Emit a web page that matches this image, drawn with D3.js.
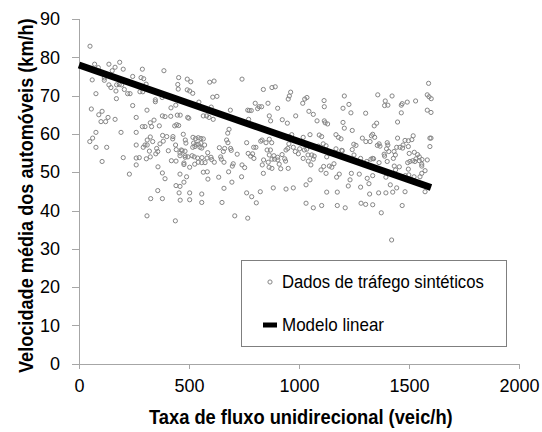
<!DOCTYPE html>
<html>
<head>
<meta charset="utf-8">
<script src="https://cdn.jsdelivr.net/npm/d3@7"></script>
<style>
  body { margin: 0; background: #fff; }
  svg text { fill: #000; }
</style>
</head>
<body>
<svg id="chart" width="542" height="432"></svg>
<script>
// synthetic traffic observations: [flow (veic/h), speed (km/h)]
var points = [
  [50,82.9],[71,78.2],[88,77.3],[60,74.1],[77,70.5],[56,66.5],[105,65.9],[90,65.0],[100,63.2],[121,63.2],
  [132,64.3],[77,60.4],[62,58.9],[49,58.0],[77,56.5],[126,56.5],[105,52.8],[136,78.2],[151,76.5],[164,77.4],
  [185,78.7],[201,76.9],[115,74.0],[115,74.6],[136,72.8],[145,72.1],[171,72.8],[183,72.9],[194,72.8],[206,71.6],
  [168,71.2],[221,70.5],[232,70.5],[170,69.2],[244,75.0],[288,76.9],[282,74.7],[294,74.4],[305,73.0],[277,71.0],
  [290,71.0],[244,67.4],[260,64.3],[309,66.2],[191,60.4],[201,53.8],[229,49.5],[260,60.4],[288,61.9],[300,61.9],
  [324,62.9],[330,61.9],[341,63.6],[260,57.1],[292,56.5],[300,57.1],[310,57.1],[310,58.4],[260,53.7],[306,53.5],
  [274,53.8],[260,51.9],[324,59.2],[335,58.0],[320,55.5],[324,54.0],[359,51.4],[358,45.2],[379,49.8],[391,48.3],
  [326,43.1],[379,43.1],[309,38.6],[438,37.3],[349,54.8],[368,57.4],[353,56.2],[358,55.4],[365,62.1],[379,64.7],
  [391,64.5],[380,59.6],[399,59.3],[418,66.8],[435,62.1],[444,62.4],[453,62.2],[453,74.7],[449,72.9],[451,71.7],
  [492,74.3],[508,73.6],[492,71.5],[503,71.2],[517,70.6],[494,64.3],[499,64.1],[474,59.9],[483,58.4],[486,57.6],
  [465,55.8],[482,55.5],[482,54.3],[439,57.1],[442,55.9],[459,54.3],[441,52.9],[459,49.5],[477,47.4],[455,44.6],
  [503,42.8],[518,59.1],[530,58.8],[542,59.0],[554,58.8],[565,58.7],[521,57.6],[532,57.3],[542,57.3],[554,57.6],
  [571,57.1],[517,56.5],[527,56.7],[550,56.5],[558,56.3],[524,54.0],[539,53.7],[559,53.8],[542,52.6],[558,52.5],
  [573,52.5],[585,55.1],[582,53.7],[565,50.0],[583,50.1],[586,48.2],[644,54.0],[647,53.4],[659,52.6],[558,44.3],
  [558,42.1],[545,68.3],[580,64.7],[591,64.3],[610,63.8],[565,64.7],[594,73.5],[614,73.8],[608,69.6],[627,69.8],
  [601,67.0],[638,56.4],[656,55.4],[662,56.2],[635,48.7],[650,42.1],[659,45.8],[676,60.2],[671,58.4],[677,57.7],
  [682,61.2],[688,66.2],[689,56.2],[692,55.7],[701,52.2],[697,51.6],[708,38.6],[695,47.4],[719,54.7],[741,51.9],
  [753,51.2],[739,48.8],[762,44.6],[767,38.0],[741,74.3],[767,66.2],[771,63.8],[762,57.7],[769,54.9],[386,76.5],
  [347,68.9],[347,68.4],[378,69.5],[164,63.8],[383,58.1],[406,55.6],[420,53.0],[426,58.7],[427,59.3],[459,55.0],
  [469,55.6],[477,52.4],[477,52.0],[483,53.9],[495,54.0],[514,54.3],[459,46.3],[600,53.9],[603,53.3],[615,52.6],
  [680,50.1],[794,56.5],[855,55.8],[870,55.8],[860,52.6],[877,51.0],[1032,46.7],[1050,48.0],[812,66.6],[1465,67.5],
  [1329,59.5],[1344,59.1],[1197,55.6],[1250,54.5],[1280,53.6],[1364,52.5],[1389,54.2],[1401,52.8],[1415,46.7],[1444,45.9],
  [1335,49.1],[417,64.6],[447,64.9],[460,64.9],[440,67.5],[441,46.5],[460,42.7],[526,52.1],[503,51.3],[489,48.8],
  [503,44.6],
  [838,71.6],[877,72.1],[892,72.3],[962,70.9],[956,69.9],[951,69.1],[801,68.0],[819,67.1],[830,67.1],[859,68.0],
  [774,66.1],[783,66.1],[903,66.7],[865,64.7],[871,63.4],[924,63.7],[947,62.8],[1017,68.0],[1026,69.1],[1036,69.5],
  [1045,65.9],[1065,65.1],[985,64.7],[1082,63.4],[1114,68.7],[1115,67.1],[1115,63.4],[1119,62.9],[1130,62.6],[1206,69.9],
  [1227,67.7],[1236,65.5],[1200,66.7],[1200,63.0],[1206,61.5],[1242,60.9],[1303,65.4],[1358,70.2],[1423,69.9],[1392,68.6],
  [1404,67.5],[1389,67.4],[1469,67.9],[1492,68.3],[1465,65.5],[1448,63.1],[1353,62.8],[1342,62.1],[1335,59.9],[1288,58.9],
  [1242,55.9],[1249,57.3],[1259,57.0],[1304,58.0],[1323,58.0],[1335,53.6],[1339,53.5],[1356,57.0],[1364,57.4],[1368,56.8],
  [1401,57.7],[1404,57.1],[1398,56.1],[1444,56.5],[1432,55.4],[1438,54.5],[1429,53.6],[1448,58.9],[1482,58.3],[1497,58.2],
  [1459,56.5],[1473,57.1],[1497,56.7],[1501,54.9],[1433,51.6],[1439,50.6],[1456,51.4],[1497,50.8],[1499,49.3],[1395,48.7],
  [1310,48.4],[1318,47.0],[1274,49.5],[1224,46.4],[1280,46.1],[1232,48.0],[1183,49.5],[1171,48.7],[1123,49.7],[1138,51.6],
  [1149,51.3],[1159,52.2],[1100,50.6],[1112,51.5],[1054,51.9],[1065,53.4],[1042,52.9],[1041,54.5],[1058,54.5],[1024,55.8],
  [1035,56.0],[997,54.8],[1019,53.6],[1003,56.1],[983,55.4],[974,56.5],[949,56.2],[954,57.4],[941,55.8],[956,59.3],
  [967,59.8],[923,54.6],[935,53.5],[939,52.9],[910,52.1],[917,50.9],[951,51.0],[886,54.3],[903,53.9],[904,53.2],
  [865,54.5],[877,53.4],[889,53.4],[839,53.2],[833,51.9],[864,51.3],[838,49.7],[876,57.7],[865,58.6],[850,57.7],
  [832,58.4],[826,58.1],[804,56.5],[795,53.6],[789,54.8],[780,54.2],[785,43.6],[806,42.0],[824,44.9],[883,45.9],
  [941,45.6],[974,45.9],[1032,41.9],[1065,40.7],[1103,41.3],[1126,44.8],[1174,44.8],[1174,41.3],[1210,40.7],[1282,41.9],
  [1303,41.6],[1335,41.5],[1321,44.3],[1362,44.6],[1395,44.6],[1426,44.8],[1469,41.3],[1374,39.4],[1421,32.3],
  [1589,73.2],[1583,70.2],[1591,69.7],[1601,69.2],[1583,66.2],[1600,65.6],[1530,68.6],[1595,58.9],[1600,58.9],[1595,56.7],
  [1519,59.5],[1513,58.5],[1471,56.3],[1524,55.2],[1539,54.6],[1532,53.5],[1517,53.0],[1504,52.8],[1494,52.5],[1527,52.8],
  [1547,53.0],[1559,53.3],[1583,53.2],[1558,52.1],[1558,51.6],[1573,50.4],[1558,49.7],[1550,48.8],[1523,48.8],[1483,49.1],
  [1482,44.9],[1573,44.9],
  [1050,59.8],[1092,59.7],[1103,59.3],[1110,57.4],[1123,56.9],[1126,54.0],[1141,54.9],[1168,56.1],[1194,55.7],[1308,52.8],
  [1327,53.4],[1387,54.7],[1408,55.4],[1547,54.0],[1019,59.1],[1088,56.8],[1179,59.1],[1191,58.7],[1168,59.8],[1069,54.2],
  [1238,49.7]
];

// fitted linear model end points
var modelFlow = [0, 1600];
var modelSpeed = [78, 46];

var xTicks = [0, 500, 1000, 1500, 2000];
var yTicks = [0, 10, 20, 30, 40, 50, 60, 70, 80, 90];

var xTitle = "Taxa de fluxo unidirecional (veic/h)";
var yTitle = "Velocidade média dos automóveis (km/h)";
var legendLabels = ["Dados de tráfego sintéticos", "Modelo linear"];
var legendWidths = [202, 102];

var svg = d3.select("#chart");
var axisColor = "#a6a6a6";
var font = "'Liberation Sans', Arial, sans-serif";

var x = d3.scaleLinear().domain([0, 2000]).range([79, 519]);
var y = d3.scaleLinear().domain([0, 90]).range([363.7, 19]);

// the original uses a narrow face; squeeze a normal one horizontally to the same width
function squeezed(parent, transform, str, width, size, weight) {
  var g = parent.append("g").attr("transform", transform);
  var t = g.append("text")
    .style("font-family", font).style("font-size", size + "px").style("font-weight", weight)
    .text(str);
  var w = t.node().getComputedTextLength();
  t.attr("transform", "scale(" + (width / w) + ",1)");
  return t;
}

// y axis
var yAxis = svg.append("g")
  .attr("transform", "translate(" + x(0) + ",0)")
  .call(d3.axisLeft(y).tickValues(yTicks).tickFormat(d3.format("d")).tickSize(7).tickPadding(12));

// x axis
var xAxis = svg.append("g")
  .attr("transform", "translate(0," + y(0) + ")")
  .call(d3.axisBottom(x).tickValues(xTicks).tickFormat(d3.format("d")).tickSize(5).tickPadding(11));

[xAxis, yAxis].forEach(function(a) {
  a.selectAll("path, line").attr("stroke", axisColor).attr("shape-rendering", "crispEdges");
  a.selectAll("text")
   .attr("fill", "#000")
   .style("font-family", font)
   .style("font-size", "18px");
});

// scatter
svg.append("g").selectAll("circle")
  .data(points)
  .enter().append("circle")
  .attr("cx", function(d) { return x(d[0]); })
  .attr("cy", function(d) { return y(d[1]); })
  .attr("r", 2.1)
  .attr("fill", "none")
  .attr("stroke", "#858585")
  .attr("stroke-width", 1);

// linear model
var model = modelFlow.map(function(f, i) { return [f, modelSpeed[i]]; });
svg.append("path")
  .datum(model)
  .attr("d", d3.line().x(function(d) { return x(d[0]); }).y(function(d) { return y(d[1]); }))
  .attr("stroke", "#000")
  .attr("stroke-width", 7)
  .attr("fill", "none");

// axis titles
squeezed(svg, "translate(149,424)", xTitle, 304, 20, "bold");
squeezed(svg, "translate(33,373) rotate(-90)", yTitle, 355, 20, "bold");

// legend
var lg = svg.append("g");
lg.append("rect")
  .attr("x", 241).attr("y", 260).attr("width", 265).attr("height", 86)
  .attr("fill", "#fff").attr("stroke", "#7f7f7f").attr("stroke-width", 1)
  .attr("shape-rendering", "crispEdges");
lg.append("circle")
  .attr("cx", 270).attr("cy", 282).attr("r", 2.1)
  .attr("fill", "none").attr("stroke", "#858585");
lg.append("line")
  .attr("x1", 263).attr("x2", 277).attr("y1", 325).attr("y2", 325)
  .attr("stroke", "#000").attr("stroke-width", 5);
legendLabels.forEach(function(d, i) {
  squeezed(lg, "translate(282," + (288 + i * 43) + ")", d, legendWidths[i], 18, "normal");
});
</script>
</body>
</html>
